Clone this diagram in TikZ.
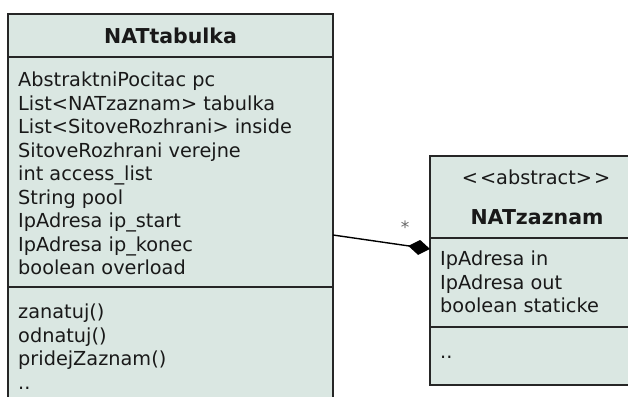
\documentclass[tikz,border=0pt]{standalone}
\usepackage{fontspec}
\setmainfont{DejaVu Sans}
\usetikzlibrary{positioning,arrows.meta}
\definecolor{umlfill}{RGB}{218,231,226}

\begin{document}
\begin{tikzpicture}[x=1pt, y=-1pt, node distance=0pt,
    comp/.style  = {draw=black!85, line width=1.6pt, fill=umlfill, outer sep=0pt, inner sep=0pt, anchor=north west},
    lines/.style = {inner sep=0pt, align=left, anchor=north west, text=black!90, font=\fontsize{19.3}{23.5}\selectfont},
    title/.style = {inner sep=0pt, text=black!90, font=\fontsize{20.5}{24}\selectfont\bfseries}]
  \clip (0,0) rectangle (628,396);
  % NATtabulka
  \node[comp, minimum width=325pt, minimum height=43pt]  (tabhead) at (8,14) {};
  \node[comp, minimum width=325pt, minimum height=230pt] (tabattr) [below=of tabhead] {};
  \node[comp, minimum width=325pt, minimum height=130pt] (tabops)  [below=of tabattr] {};
  \node[title] (tabname) at (tabhead.center) {NATtabulka};
  \node[lines] (tabattrs) at ([xshift=10pt,yshift=-15pt]tabattr.north west)
    {AbstraktniPocitac pc\\List<NATzaznam> tabulka\\List<SitoveRozhrani> inside\\SitoveRozhrani verejne\\int access\_list\\String pool\\IpAdresa ip\_start\\IpAdresa ip\_konec\\boolean overload};
  \node[lines] (tabmeths) at ([xshift=10pt,yshift=-17pt]tabops.north west)
    {zanatuj()\\odnatuj()\\pridejZaznam()\\..};
  % NATzaznam
  \node[comp, minimum width=212pt, minimum height=82pt] (zazhead) at (430,156) {};
  \node[comp, minimum width=212pt, minimum height=89pt] (zazattr) [below=of zazhead] {};
  \node[comp, minimum width=212pt, minimum height=58pt] (zazops)  [below=of zazattr] {};
  \node[inner sep=0pt, text=black!90, font=\fontsize{19.3}{23.5}\selectfont] (zazstereo) at (536,177)
    {{<}\kern2pt{<}abstract{>}\kern2pt{>}};
  \node[title] (zazname) at (537,217) {NATzaznam};
  \node[lines] (zazattrs) at ([xshift=10pt,yshift=-13pt]zazattr.north west)
    {IpAdresa in\\IpAdresa out\\boolean staticke};
  \node[lines] (zazmeths) at ([xshift=10pt,yshift=-29pt]zazops.north west) {..};
  % composition
  \coordinate (src) at (tabattr.east |- 0,235);
  \coordinate (dst) at (zazattr.west |- 0,249);
  \draw[line width=1.4pt, -{Diamond[length=22pt,width=15pt]}] (src) -- (dst);
  \node[text=black!60, font=\fontsize{17}{17}\selectfont] (mult) at (405,227) {*};
\end{tikzpicture}
\end{document}
